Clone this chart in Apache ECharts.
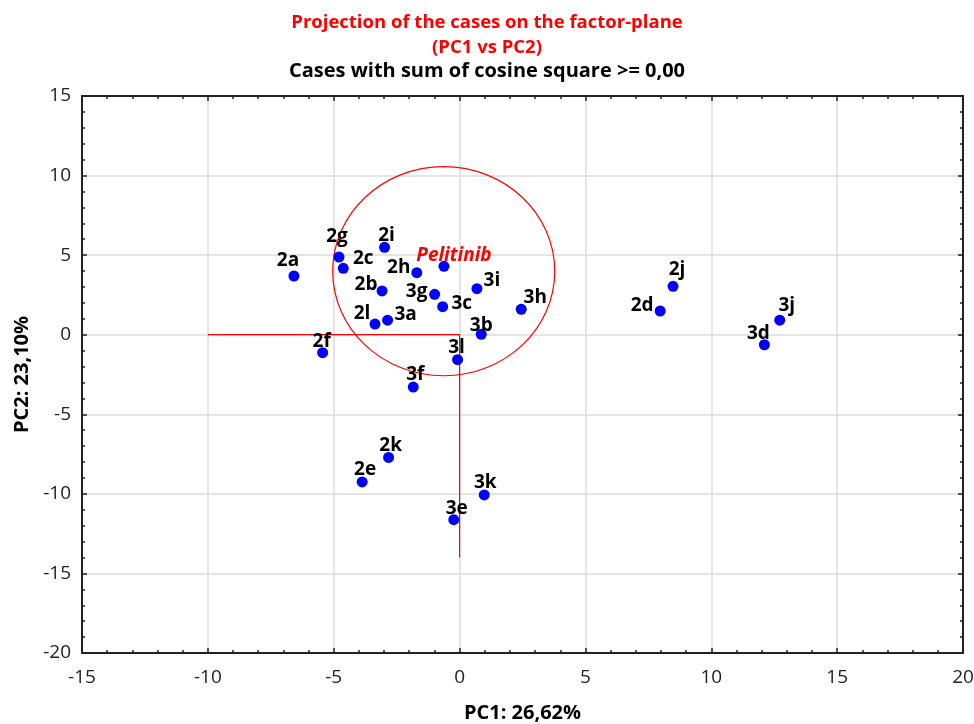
<!DOCTYPE html>
<html>
<head>
<meta charset="utf-8">
<script src="https://cdn.jsdelivr.net/npm/echarts@6/dist/echarts.min.js"></script>
<style>html,body{margin:0;padding:0;background:#fff}#c{width:974px;height:724px}</style>
</head>
<body>
<div id="c"></div>
<script>
// ---- data ----
const caseNames = ['2a','2g','2c','2i','2h','Pelitinib','2b','3g','3i','3c','3h','2l','3a','3b','2f','3l','3f','2k','2e','3k','3e','2j','2d','3j','3d'];
const pc1Values = [-6.58,-4.79,-4.62,-2.98,-1.70,-0.62,-3.08,-0.99,0.69,-0.67,2.45,-3.36,-2.86,0.86,-5.44,-0.08,-1.84,-2.82,-3.87,0.98,-0.23,8.48,7.97,12.72,12.11];
const pc2Values = [3.69,4.88,4.17,5.49,3.90,4.30,2.75,2.54,2.89,1.76,1.60,0.67,0.91,0.03,-1.13,-1.57,-3.29,-7.71,-9.25,-10.07,-11.62,3.04,1.49,0.91,-0.63];
const refLineX = [-10, 0, 0];
const refLineY = [0, 0, -14];
const circleCenter = [-0.63, 3.99];
const circleRadii = [4.41, 6.57];
const xTicks = [-15, -10, -5, 0, 5, 10, 15, 20];
const yTicks = [-20, -15, -10, -5, 0, 5, 10, 15];

// label placement (style only)
const labelOffsets = {
  '2a':[-6,-15],'2g':[-2,-20],'2c':[20,-10],'2i':[2,-12],'2h':[-18,-5],'Pelitinib':[10,-11],
  '2b':[-16,-6],'3g':[-18,-3],'3i':[15,-8],'3c':[19,-3],'3h':[14,-12],'2l':[-13,-10],
  '3a':[18,-6],'3b':[0,-9],'2f':[-1,-11],'3l':[-1,-12],'3f':[2,-12],'2k':[2,-12],
  '2e':[3,-12],'3k':[1,-12],'3e':[3,-11],'2j':[4,-17],'2d':[-18,-5],'3j':[7,-15],'3d':[-6,-11]
};

const FONT = 'Open Sans';
const chart = echarts.init(document.getElementById('c'), null, {renderer:'canvas'});

const points = caseNames.map((n, i) => {
  const isDrug = n === 'Pelitinib';
  return {
    name: n,
    value: [pc1Values[i], pc2Values[i]],
    label: {
      show: true,
      formatter: n,
      position: 'inside',
      offset: labelOffsets[n],
      color: isDrug ? '#ff0000' : '#000',
      fontStyle: isDrug ? 'italic' : 'normal',
      fontWeight: 'bold',
      fontSize: 19,
      fontFamily: FONT
    }
  };
});

const xMin = xTicks[0], xMax = xTicks[xTicks.length-1];
const yMin = yTicks[0], yMax = yTicks[yTicks.length-1];

const frameAxis = (extra) => Object.assign({
  type: 'value', interval: 5, splitNumber: 7,
  axisLine: {show: true, onZero: false, lineStyle: {color: '#222', width: 2}},
  axisTick: {show: true, inside: true, length: 5, lineStyle: {color: '#222', width: 1.5}},
  minorTick: {show: true, splitNumber: 5, length: 3, lineStyle: {color: '#222', width: 1.5}},
}, extra);

const option = {
  backgroundColor: '#fff',
  animation: false,
  title: [
    {text: 'Projection of the cases on the factor-plane\n(PC1 vs PC2)', left: 'center', top: 5,
     textStyle: {color: '#ff0000', fontSize: 18.5, fontWeight: 'bold', fontFamily: FONT, lineHeight: 25}},
    {text: 'Cases with sum of cosine square >= 0,00', left: 'center', top: 56,
     textStyle: {color: '#000', fontSize: 20, fontWeight: 'bold', fontFamily: FONT}}
  ],
  grid: {left: 82, top: 96, right: 11, bottom: 71, show: false, outerBoundsMode: 'none', containLabel: false},
  xAxis: [
    frameAxis({position: 'bottom', min: xMin, max: xMax,
      name: 'PC1: 26,62%', nameLocation: 'middle', nameGap: 50,
      nameTextStyle: {color: '#000', fontSize: 20, fontWeight: 'bold', fontFamily: FONT},
      axisLabel: {color: '#222', fontSize: 19, fontFamily: FONT, margin: 15},
      splitLine: {show: true, lineStyle: {color: '#dcdcdc', width: 1.5}}
    }),
    frameAxis({position: 'top', min: xMin, max: xMax, axisLabel: {show: false}, splitLine: {show: false}})
  ],
  yAxis: [
    frameAxis({position: 'left', min: yMin, max: yMax,
      name: 'PC2: 23,10%', nameLocation: 'middle', nameGap: 47, nameRotate: 90,
      nameTextStyle: {color: '#000', fontSize: 20, fontWeight: 'bold', fontFamily: FONT},
      axisLabel: {color: '#222', fontSize: 19, fontFamily: FONT, margin: 11},
      splitLine: {show: true, lineStyle: {color: '#dcdcdc', width: 1.5}}
    }),
    frameAxis({position: 'right', min: yMin, max: yMax, axisLabel: {show: false}, splitLine: {show: false}})
  ],
  series: [
    {
      type: 'line', xAxisIndex: 0, yAxisIndex: 0,
      data: refLineX.map((x, i) => [x, refLineY[i]]),
      symbol: 'none', lineStyle: {color: '#ff0000', width: 1.2}, silent: true, z: 2
    },
    {
      type: 'custom', xAxisIndex: 0, yAxisIndex: 0,
      data: [[circleCenter[0], circleCenter[1], circleRadii[0], circleRadii[1]]],
      renderItem: function (params, api) {
        const c = api.coord([api.value(0), api.value(1)]);
        const px = api.coord([api.value(0) + api.value(2), api.value(1)]);
        const py = api.coord([api.value(0), api.value(1) + api.value(3)]);
        return {
          type: 'ellipse',
          shape: {cx: c[0], cy: c[1], rx: Math.abs(px[0]-c[0]), ry: Math.abs(c[1]-py[1])},
          style: {fill: 'none', stroke: '#ff0000', lineWidth: 1.2}
        };
      },
      silent: true, z: 2
    },
    {
      type: 'scatter', xAxisIndex: 0, yAxisIndex: 0,
      data: points, symbol: 'circle', symbolSize: 11,
      itemStyle: {color: '#0000ff', opacity: 1}, z: 3
    }
  ]
};
chart.setOption(option);
</script>
</body>
</html>
